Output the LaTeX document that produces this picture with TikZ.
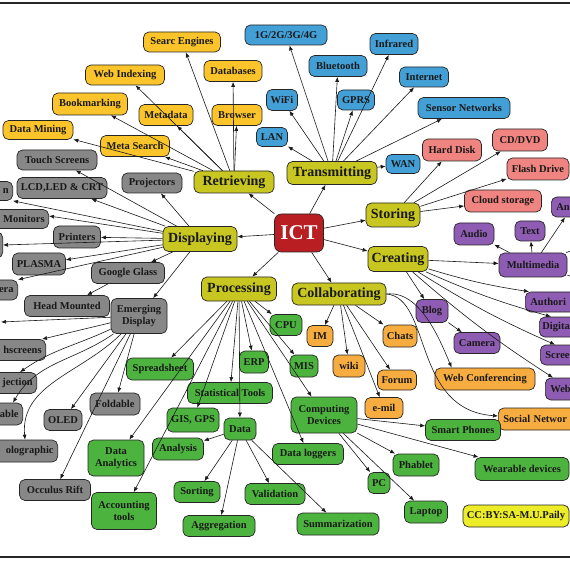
\documentclass[tikz,border=0pt]{standalone}
\usepackage{fontspec}
\setmainfont{Liberation Serif}
\usetikzlibrary{arrows.meta}
\definecolor{catc}{RGB}{200,198,32}
\definecolor{ictc}{RGB}{185,30,35}
\definecolor{retc}{RGB}{250,196,42}
\definecolor{trac}{RGB}{66,160,215}
\definecolor{disc}{RGB}{135,135,135}
\definecolor{stoc}{RGB}{240,132,128}
\definecolor{crec}{RGB}{142,92,178}
\definecolor{proc}{RGB}{76,180,62}
\definecolor{colc}{RGB}{246,172,62}
\definecolor{ccc}{RGB}{236,236,40}
\begin{document}
\begin{tikzpicture}[x=1pt,y=-1pt,
  box/.style={draw=black!85, line width=0.7pt, rounded corners=5.5pt, inner sep=2pt, align=center, text=black!90, minimum height=21, font=\fontsize{10.5}{11.5}\selectfont\bfseries},
  cat/.style={box, fill=catc, font=\fontsize{14}{16}\selectfont\bfseries},
  ret/.style={box, fill=retc},
  tra/.style={box, fill=trac},
  dis/.style={box, fill=disc},
  sto/.style={box, fill=stoc},
  cre/.style={box, fill=crec},
  pro/.style={box, fill=proc},
  col/.style={box, fill=colc},
  lc/.style={anchor=east, text width=70pt, align=right, inner xsep=4pt},
  rc/.style={anchor=west, text width=70pt, align=left, inner xsep=5pt},
  ar/.style={-{Latex[length=5pt,width=4pt]}, line width=0.6pt, black!90},
]
\useasboundingbox (0,0) rectangle (570,561);
\fill[white] (0,0) rectangle (570,561);
\clip (0,0) rectangle (570,561);
\draw[line width=1.2pt, black!85] (0,3) -- (570,3);
\draw[line width=1.2pt, black!85] (0,557) -- (570,557);

% central and categories
\node[box, fill=ictc, text=white, minimum width=49, minimum height=38, rounded corners=7pt, font=\fontsize{21}{23}\selectfont\bfseries] (ict) at (299,233) {ICT};
\node[cat, minimum width=80, minimum height=22] (retr) at (234,182) {Retrieving};
\node[cat, minimum width=90, minimum height=23] (tran) at (332,173) {Transmitting};
\node[cat, minimum width=54, minimum height=24] (stor) at (393,215) {Storing};
\node[cat, minimum width=60, minimum height=25] (crea) at (398,259) {Creating};
\node[cat, minimum width=94, minimum height=22] (coll) at (339,294) {Collaborating};
\node[cat, minimum width=75, minimum height=24] (proc) at (239,289) {Processing};
\node[cat, minimum width=74, minimum height=25] (disp) at (200,239) {Displaying};

% retrieving
\node[ret, minimum width=77, minimum height=20] (se) at (182,42) {Searc Engines};
\node[ret, minimum width=79, minimum height=20] (wi) at (125,75) {Web Indexing};
\node[ret, minimum width=58] (db) at (233,71) {Databases};
\node[ret, minimum width=75, minimum height=22] (bm) at (90,104) {Bookmarking};
\node[ret, minimum width=54] (md) at (166,115) {Metadata};
\node[ret, minimum width=50] (br) at (237,115) {Browser};
\node[ret, minimum width=70, minimum height=19] (dm) at (38,130) {Data Mining};
\node[ret, minimum width=69] (ms) at (135,146) {Meta Search};

% transmitting
\node[tra, minimum width=82, minimum height=20] (g4) at (286,35) {1G/2G/3G/4G};
\node[tra, minimum width=48] (inf) at (394,44) {Infrared};
\node[tra, minimum width=58] (bt) at (338,66) {Bluetooth};
\node[tra, minimum width=49, minimum height=20] (inet) at (424,77) {Internet};
\node[tra, minimum width=31] (wifi) at (282,100) {WiFi};
\node[tra, minimum width=37, minimum height=20] (gprs) at (356,100) {GPRS};
\node[tra, minimum width=92] (sn) at (464,108) {Sensor Networks};
\node[tra, minimum width=31, minimum height=19] (lan) at (272,137) {LAN};
\node[tra, minimum width=34, minimum height=19] (wan) at (403,164) {WAN};

% storing
\node[sto, minimum width=59, minimum height=22] (hd) at (452,150) {Hard Disk};
\node[sto, minimum width=55, minimum height=22] (cd) at (520,140) {CD/DVD};
\node[sto, minimum width=62, minimum height=22] (fd) at (538,169) {Flash Drive};
\node[sto, minimum width=77, minimum height=22] (cs) at (503,201) {Cloud storage};

% creating
\node[cre, minimum width=40, minimum height=22] (aud) at (474,234) {Audio};
\node[cre, minimum width=30, minimum height=20] (txt) at (530,231) {Text};
\node[cre, rc, minimum height=20] (anim) at (551,207) {An};
\node[cre, minimum width=68, minimum height=24] (mm) at (533,265) {Multimedia};
\node[cre, rc, minimum height=20] (auth) at (525,302) {Authori};
\node[cre, rc, minimum height=20, inner xsep=3pt] (dig) at (539,327) {Digita};
\node[cre, rc, minimum height=20] (scr) at (540,355) {Scree};
\node[cre, rc, minimum height=22] (webp) at (545,389) {Web};
\node[cre, minimum width=32, minimum height=23] (blog) at (432,311) {Blog};
\node[cre, minimum width=46] (cam) at (477,343) {Camera};

% collaborating
\node[col, minimum width=26] (im) at (320,336) {IM};
\node[col, minimum width=34, minimum height=22] (chats) at (400,336) {Chats};
\node[col, minimum width=32, minimum height=22] (wiki) at (349,366) {wiki};
\node[col, minimum width=39, minimum height=20] (forum) at (397,380) {Forum};
\node[col, minimum width=100, minimum height=22] (wc) at (485,379) {Web Conferencing};
\node[col, minimum width=38] (email) at (384,408) {e-mil};
\node[col, rc, minimum height=22] (soc) at (498,419) {Social Networ};

% processing
\node[pro, minimum width=32] (cpu) at (286,325) {CPU};
\node[pro, minimum width=29, minimum height=22] (erp) at (254,362) {ERP};
\node[pro, minimum width=28, minimum height=22] (mis) at (304,366) {MIS};
\node[pro, minimum width=67, minimum height=22] (sp) at (160,369) {Spreadsheet};
\node[pro, minimum width=85] (st) at (230,393) {Statistical Tools};
\node[pro, minimum width=52, minimum height=24] (gis) at (193,420) {GIS, GPS};
\node[pro, minimum width=32, minimum height=22] (data) at (240,429) {Data};
\node[pro, minimum width=56, minimum height=36] (da) at (116,458) {Data\\Analytics};
\node[pro, minimum width=51, minimum height=22] (ana) at (178,449) {Analysis};
\node[pro, minimum width=65, minimum height=37] (at) at (124,511) {Accounting\\tools};
\node[pro, minimum width=66, minimum height=36] (cdev) at (324,415) {Computing\\Devices};
\node[pro, minimum width=71] (dl) at (308,454) {Data loggers};
\node[pro, minimum width=46] (sort) at (197,492) {Sorting};
\node[pro, minimum width=60] (val) at (275,494) {Validation};
\node[pro, minimum width=72] (agg) at (219,526) {Aggregation};
\node[pro, minimum width=82, minimum height=22] (sum) at (338,524) {Summarization};
\node[pro, minimum width=75] (sph) at (463,430) {Smart Phones};
\node[pro, minimum width=46, minimum height=22] (phab) at (416,465) {Phablet};
\node[pro, minimum width=94, minimum height=23] (wear) at (522,469) {Wearable devices};
\node[pro, minimum width=22] (pc) at (379,483) {PC};
\node[pro, minimum width=43, minimum height=22] (lap) at (426,512) {Laptop};
\node[box, fill=ccc, minimum width=106, minimum height=22] (cc) at (516,516) {CC:BY:SA-M.U.Paily};

% displaying
\node[dis, minimum width=80, minimum height=20] (ts) at (57,160) {Touch Screens};
\node[dis, minimum width=90, inner xsep=1pt] (lcd) at (62,188) {LCD,LED \& CRT};
\node[dis, minimum width=60, minimum height=20] (proj) at (152,183) {Projectors};
\node[dis, lc, minimum height=19] (nn) at (13,191) {n};
\node[dis, lc, minimum height=19] (mon) at (49,219) {Monitors};
\node[dis, minimum width=47, minimum height=22] (prn) at (77,237) {Printers};
\node[dis, lc, minimum height=26] (emp) at (3,245) {};
\node[dis, minimum width=53, minimum height=22] (plas) at (39,264) {PLASMA};
\node[dis, lc, minimum height=20] (era) at (18,290) {era};
\node[dis, minimum width=73] (gg) at (128,273) {Google Glass};
\node[dis, minimum width=85] (hm) at (67,306) {Head Mounted};
\node[dis, minimum width=56, minimum height=35] (ed) at (139,316) {Emerging\\Display};
\node[dis, lc] (hs) at (46,350) {hscreens};
\node[dis, lc] (jec) at (37,383) {jection};
\node[dis, lc, minimum height=22] (able) at (23,414) {able};
\node[dis, minimum width=38] (oled) at (63,420) {OLED};
\node[dis, minimum width=50, minimum height=22] (fold) at (115,404) {Foldable};
\node[dis, lc, minimum height=22] (holo) at (58,451) {olographic};
\node[dis, minimum width=71] (occ) at (55,490) {Occulus Rift};

\coordinate (edoff) at (1,322);
\coordinate (mmo1) at (600,240);
\coordinate (mmo2) at (600,285);

% connectors
\foreach \c in {retr,tran,disp,stor,crea,proc,coll} \draw[ar] (ict) -- (\c);
\foreach \c in {se,wi,db,bm,md,br,dm,ms} \draw[ar] (retr) -- (\c);
\foreach \c in {g4,bt,inf,inet,wifi,gprs,sn,lan,wan} \draw[ar] (tran) -- (\c);
\foreach \c in {hd,cd,fd,cs} \draw[ar] (stor) -- (\c);
\draw[ar] (crea) -- (mm);
\draw[ar] (crea) -- (blog);
\draw[ar] (crea) to[bend right=4] ([xshift=4pt]auth.north west);
\draw[ar] (crea) to[bend right=4] ([xshift=12pt]dig.north west);
\draw[ar] (crea) to[bend right=4] ([xshift=15pt]scr.north west);
\draw[ar] (crea) to[bend right=4] ([xshift=8pt]webp.north west);
\draw[ar] (blog) -- (cam);
\draw[ar] (mm) -- (aud);
\draw[ar] (mm) -- (txt);
\draw[ar] (mm) -- ([xshift=14pt]anim.south west);
\draw[line width=0.6pt, black!90] (mm) -- (mmo1);
\draw[line width=0.6pt, black!90] (mm) -- (mmo2);
\foreach \c in {im,wiki,chats,forum,email} \draw[ar] (coll) -- (\c);
\draw[ar] (coll.east) .. controls (420,290) and (440,340) .. ([xshift=17pt]wc.north west);
\draw[ar] (coll.east) .. controls (432,298) and (412,410) .. ([yshift=3pt]soc.west);
\foreach \c in {cpu,erp,mis,sp,st,gis,data,da,at,cdev,dl} \draw[ar] (proc) -- (\c);
\foreach \c in {ana,sort,agg,val,sum} \draw[ar] (data) -- (\c);
\foreach \c in {sph,phab,wear,pc,lap} \draw[ar] (cdev) -- (\c);
\foreach \c in {ts,lcd,proj,prn,plas,gg,ed} \draw[ar] (disp) -- (\c);
\draw[ar] (disp) -- (nn.south east);
\draw[ar] (disp) -- ([yshift=3pt]mon.east);
\draw[ar] (disp) -- (emp.east);
\draw[ar] (disp) -- (era.north east);
\draw[ar] (gg) -- (hm);
\draw[ar] (ed) -- (edoff);
\draw[ar] (ed) -- ([xshift=-4pt]hs.north east);
\draw[ar] (ed) to[out=205,in=35] ([xshift=-17pt]jec.north east);
\draw[ar] (ed) to[out=215,in=60] ([xshift=-10pt]able.north east);
\draw[ar] (ed) to[out=225,in=95] ([xshift=-33pt]holo.north east);
\foreach \c in {oled,fold,occ} \draw[ar] (ed) -- (\c);
\end{tikzpicture}
\end{document}
